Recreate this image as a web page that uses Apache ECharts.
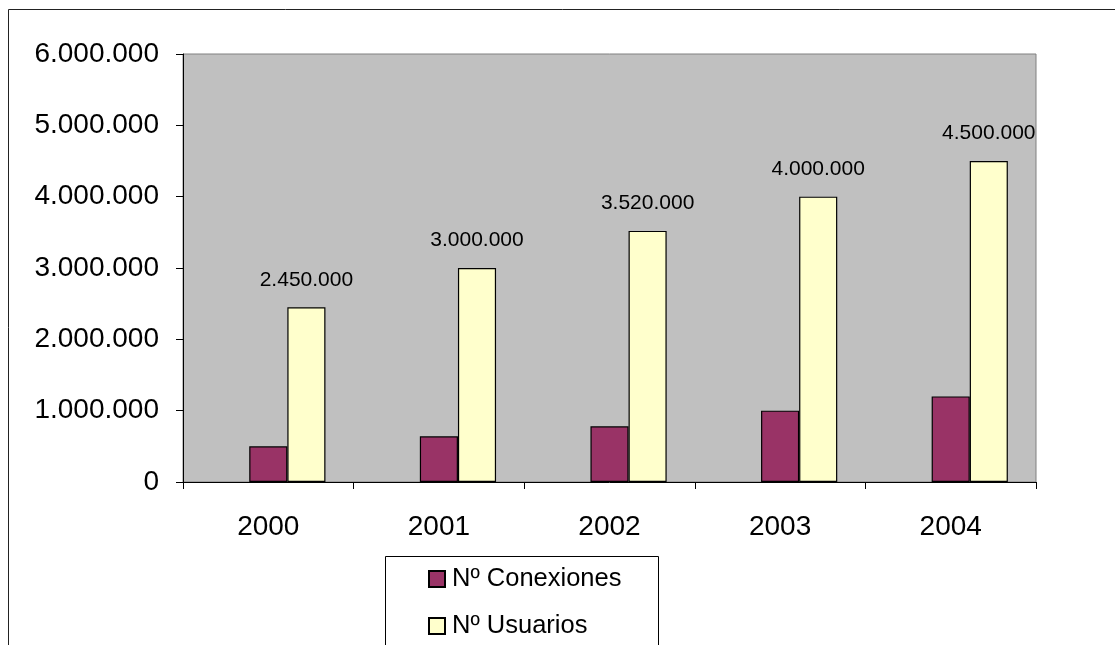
<!DOCTYPE html>
<html>
<head>
<meta charset="utf-8">
<script src="https://cdn.jsdelivr.net/npm/echarts@6/dist/echarts.min.js"></script>
<style>
  html, body { margin: 0; padding: 0; background: #fff; }
  #main { width: 1115px; height: 645px; }
</style>
</head>
<body>
<div id="main"></div>
<script>
var years = ['2000', '2001', '2002', '2003', '2004'];
var conexiones = [500000, 640000, 780000, 1000000, 1200000];
var usuarios = [2450000, 3000000, 3520000, 4000000, 4500000];
var hueco = [null, null, null, null, null]; // serie vacia que ocupa el primer hueco
var yTicks = [0, 1000000, 2000000, 3000000, 4000000, 5000000, 6000000];

function puntos(v) {
  return String(v).replace(/\B(?=(\d{3})+(?!\d))/g, '.');
}

var chart = echarts.init(document.getElementById('main'));
var fuente = '"Liberation Sans", Arial, sans-serif';

var option = {
  animation: false,
  textStyle: { fontFamily: fuente, color: '#000' },
  graphic: [
    {
      // marco exterior del grafico
      type: 'rect',
      shape: { x: 8.5, y: 9.5, width: 1200, height: 700 },
      style: { fill: 'none', stroke: '#222', lineWidth: 1 },
      silent: true
    },
    {
      // caja de la leyenda
      type: 'rect',
      shape: { x: 385.5, y: 556.5, width: 273, height: 200 },
      style: { fill: '#fff', stroke: '#000', lineWidth: 1 },
      silent: true,
      z: -1
    }
  ],
  grid: {
    left: 183, top: 54, right: 79, bottom: 163,
    show: true,
    backgroundColor: '#C0C0C0',
    borderColor: '#808080',
    borderWidth: 1
  },
  legend: {
    data: ['Nº Conexiones', 'Nº Usuarios'],
    orient: 'vertical',
    left: 428, top: 565,
    padding: 0,
    icon: 'rect',
    itemWidth: 16, itemHeight: 16,
    itemGap: 19,
    textStyle: { fontFamily: fuente, fontSize: 25.5, lineHeight: 28, color: '#000', padding: [0, 0, 0, 2] }
  },
  xAxis: {
    type: 'category',
    data: years,
    axisLine: { lineStyle: { color: '#000', width: 1 } },
    axisTick: { show: true, length: 7, interval: 0, lineStyle: { color: '#000' } },
    axisLabel: { fontSize: 28, margin: 31, color: '#000', fontFamily: fuente }
  },
  yAxis: {
    type: 'value',
    min: yTicks[0],
    max: yTicks[yTicks.length - 1],
    interval: 1000000,
    splitLine: { show: false },
    axisLine: { show: true, lineStyle: { color: '#000', width: 1 } },
    axisTick: { show: true, length: 7, lineStyle: { color: '#000' } },
    axisLabel: { fontSize: 28, margin: 24, color: '#000', fontFamily: fuente, formatter: puntos }
  },
  series: [
    {
      name: 'hueco', type: 'bar', data: hueco,
      barGap: '0%', barCategoryGap: '33%'
    },
    {
      name: 'Nº Conexiones', type: 'bar', data: conexiones,
      barGap: '0%', barCategoryGap: '33%',
      itemStyle: { color: '#993366', borderColor: '#000', borderWidth: 1.2 }
    },
    {
      name: 'Nº Usuarios', type: 'bar', data: usuarios,
      barGap: '0%', barCategoryGap: '33%',
      itemStyle: { color: '#FFFFCC', borderColor: '#000', borderWidth: 1.2 },
      label: {
        show: true, position: 'top', distance: 17,
        fontSize: 21, color: '#000', fontFamily: fuente,
        formatter: function (p) { return puntos(p.value); }
      }
    }
  ]
};
chart.setOption(option);
</script>
</body>
</html>
